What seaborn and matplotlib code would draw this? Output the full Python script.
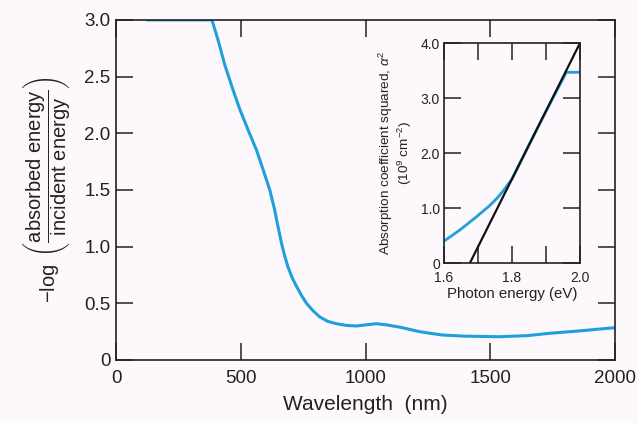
import matplotlib
matplotlib.use("Agg")
import matplotlib.pyplot as plt
import seaborn as sns
import pandas as pd

# Transmission spectrum: wavelength (nm) vs -log(absorbed/incident)
wavelength = [120, 384, 409, 436, 469, 496, 529, 563, 589, 616, 636, 643, 663,
              676, 689, 706, 723, 743, 763, 789, 816, 849, 883, 923, 963, 1003,
              1043, 1083, 1136, 1216, 1260, 1309, 1400, 1536, 1650, 1736, 1850,
              2000]
absorbance = [3.0, 3.0, 2.82, 2.60, 2.38, 2.21, 2.03, 1.85, 1.68, 1.50, 1.32,
              1.24, 1.03, 0.915, 0.82, 0.725, 0.65, 0.57, 0.50, 0.435, 0.38,
              0.34, 0.32, 0.305, 0.30, 0.31, 0.32, 0.31, 0.29, 0.25, 0.235,
              0.22, 0.21, 0.205, 0.215, 0.235, 0.255, 0.285]

# Inset: absorption coefficient squared vs photon energy
photon_energy = [1.600, 1.646, 1.695, 1.735, 1.759, 1.775, 1.800, 1.850, 1.900,
                 1.960, 2.000]
alpha_sq = [0.40, 0.60, 0.84, 1.05, 1.20, 1.32, 1.53, 2.15, 2.76, 3.47, 3.47]

# Linear extrapolation to the band gap
fit_energy = [1.676, 2.000]
fit_alpha_sq = [0.0, 4.0]

main_xticks = [0, 500, 1000, 1500, 2000]
main_xticklabels = ["0", "500", "1000", "1500", "2000"]
main_yticks = [0, 0.5, 1.0, 1.5, 2.0, 2.5, 3.0]
main_yticklabels = ["0", "0.5", "1.0", "1.5", "2.0", "2.5", "3.0"]
inset_xticks = [1.6, 1.7, 1.8, 1.9, 2.0]
inset_xticklabels = ["1.6", "", "1.8", "", "2.0"]
inset_yticks = [0, 1.0, 2.0, 3.0, 4.0]
inset_yticklabels = ["0", "1.0", "2.0", "3.0", "4.0"]

sns.set_theme(style="ticks")
bg = "#fcf8fb"
ink = "#222222"
blue = "#1fa0dc"
plt.rcParams["font.family"] = ["Liberation Sans", "DejaVu Sans"]
plt.rcParams["mathtext.fontset"] = "custom"
plt.rcParams["mathtext.rm"] = "Liberation Sans"
plt.rcParams["mathtext.it"] = "Liberation Sans:italic"
plt.rcParams["mathtext.sf"] = "Liberation Sans"

fig = plt.figure(figsize=(6.38, 4.23), dpi=100, facecolor=bg)
ax = fig.add_axes([0.182, 0.149, 0.782, 0.804], facecolor=bg)

spec = pd.DataFrame({"wl": wavelength, "a": absorbance})
sns.lineplot(data=spec, x="wl", y="a", ax=ax, color=blue, lw=2.2,
             solid_joinstyle="round", solid_capstyle="butt")

ax.set_xlim(0, 2000)
ax.set_ylim(0, 3.0)
ax.set_xticks(main_xticks)
ax.set_xticklabels(main_xticklabels)
ax.set_yticks(main_yticks)
ax.set_yticklabels(main_yticklabels)
ax.tick_params(direction="in", length=12.5, width=1.1, colors=ink,
               labelsize=13.5, top=True, right=True, pad=4)
ax.tick_params(axis="x", pad=7)
for s in ax.spines.values():
    s.set_visible(True)
    s.set_linewidth(1.2)
    s.set_color(ink)
ax.set_xlabel("Wavelength  (nm)", fontsize=15, color=ink, labelpad=6)
ax.set_ylabel(r"$-\log\ \left(\dfrac{\mathrm{absorbed\ energy}}{\mathrm{incident\ energy}}\right)$",
              fontsize=14.5, color=ink, labelpad=8)

# Inset
axi = fig.add_axes([0.696, 0.378, 0.213, 0.520], facecolor=bg)
inset_curve = pd.DataFrame({"e": photon_energy, "a2": alpha_sq})
sns.lineplot(data=inset_curve, x="e", y="a2", ax=axi, color=blue, lw=2.0,
             solid_joinstyle="round")
fit = pd.DataFrame({"e": fit_energy, "a2": fit_alpha_sq})
sns.lineplot(data=fit, x="e", y="a2", ax=axi, color="#111111", lw=1.6)

axi.set_xlim(1.6, 2.0)
axi.set_ylim(0, 4.0)
axi.set_xticks(inset_xticks)
axi.set_xticklabels(inset_xticklabels)
axi.set_yticks(inset_yticks)
axi.set_yticklabels(inset_yticklabels)
axi.tick_params(direction="in", length=12, width=1.1, colors=ink,
                labelsize=10, top=True, right=True, pad=3)
axi.tick_params(axis="x", pad=6)
for s in axi.spines.values():
    s.set_visible(True)
    s.set_linewidth(1.2)
    s.set_color(ink)
axi.set_xlabel("Photon energy (eV)", fontsize=10.8, color=ink, labelpad=1)
axi.set_ylabel("Absorption coefficient squared, $\\alpha^2$\n$(10^9\\ \\mathrm{cm}^{-2})$",
               fontsize=9.7, color=ink, labelpad=5, linespacing=1.0)

fig.savefig("out.png", dpi=100, facecolor=bg)
